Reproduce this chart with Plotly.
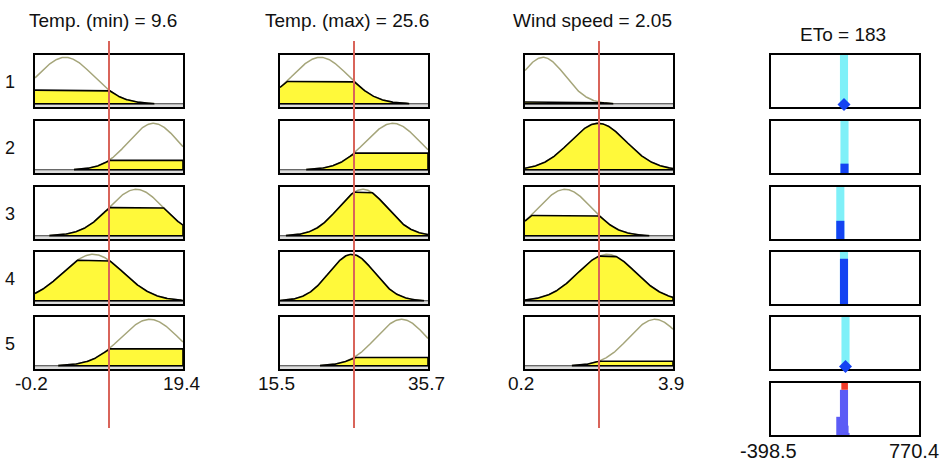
import numpy as np
import plotly.graph_objects as go

W, H = 946, 464

# ---------------- data ----------------
input_names = ["Temp. (min)", "Temp. (max)", "Wind speed"]
input_values = [9.6, 25.6, 2.05]
input_ranges = [(-0.2, 19.4), (15.5, 35.7), (0.2, 3.9)]
input_tick_labels = [("-0.2", "19.4"), ("15.5", "35.7"), ("0.2", "3.9")]
# Gaussian membership functions (centre, sigma) per input, rules 1..5
mf_centers_tmin = [3.8, 15.5, 13.2, 7.5, 15.0]
mf_sigmas_tmin = [3.7, 3.3, 3.6, 4.0, 3.8]
mf_centers_tmax = [21.0, 30.9, 26.8, 25.3, 32.1]
mf_sigmas_tmax = [3.8, 3.7, 3.3, 3.1, 3.5]
mf_centers_wind = [0.65, 2.03, 1.2, 2.25, 3.45]
mf_sigmas_wind = [0.55, 0.7, 0.66, 0.72, 0.65]

rule_labels = ["1", "2", "3", "4", "5"]
output_name = "ETo"
output_value = 183
output_range = (-398.5, 770.4)
output_tick_labels = ("-398.5", "770.4")
rule_outputs = [178, 182, 149, 178, 190]
rule_strengths = [0.03, 0.18, 0.35, 0.87, 0.04]

mf_centers = [mf_centers_tmin, mf_centers_tmax, mf_centers_wind]
mf_sigmas = [mf_sigmas_tmin, mf_sigmas_tmax, mf_sigmas_wind]

# ---------------- layout geometry (window pixels) ----------------
col_left = [35, 280, 525, 771]
col_w = 148
row_top = [55, 121, 187, 252, 317, 383]
row_h = 52

YELLOW = "#fff93a"
OLIVE = "#a5a57a"
REDLINE = "#d9645a"
CYAN = "#7ff0f8"
BLUE = "#1443f2"
AGG = "#5c5cf6"
REDTOP = "#f03a28"
FONT = "Liberation Sans, Arial, sans-serif"


def PX(p):
    return p / W


def PY(p):
    return 1 - p / H


fig = go.Figure()
layout = {}
shapes = []
annotations = []


def dom_x(c):
    return [PX(col_left[c]), PX(col_left[c] + col_w)]


def dom_y(r):
    return [PY(row_top[r] + row_h), PY(row_top[r])]


k = 0
first_axis_of_col = {}


def new_axes(c, r, xr, yr, below=False):
    global k
    k += 1
    xa = "xaxis" if k == 1 else f"xaxis{k}"
    ya = "yaxis" if k == 1 else f"yaxis{k}"
    xs = "x" if k == 1 else f"x{k}"
    ys = "y" if k == 1 else f"y{k}"
    common = dict(showline=True, mirror=True, linecolor="black", linewidth=2,
                  showgrid=False, zeroline=False, showticklabels=False,
                  ticks="", fixedrange=True,
                  layer="below traces" if below else "above traces")
    layout[xa] = dict(domain=dom_x(c), range=list(xr), anchor=ys, **common)
    layout[ya] = dict(domain=dom_y(r), range=list(yr), anchor=xs, **common)
    return xs, ys


# ---------------- input columns ----------------
for c in range(3):
    lo, hi = input_ranges[c]
    xg = np.linspace(lo, hi, 301)
    for r in range(5):
        xs, ys = new_axes(c, r, (lo, hi), (-0.07, 1.05))
        if r == 0:
            first_axis_of_col[c] = xs
        mu, sg = mf_centers[c][r], mf_sigmas[c][r]
        mf = np.exp(-(xg - mu) ** 2 / (2 * sg ** 2))
        level = float(np.exp(-(input_values[c] - mu) ** 2 / (2 * sg ** 2)))
        m = mf > 0.006
        xm = xg[m]
        clipped = np.minimum(mf[m], level)
        shapes.append(dict(type="rect", xref=f"{xs} domain", yref=ys, x0=0, x1=1,
                           y0=-0.07, y1=0, fillcolor="#dedede", line_width=0,
                           layer="below"))
        shapes.append(dict(type="line", xref=f"{xs} domain", yref=ys, x0=0, x1=1,
                           y0=0, y1=0, line=dict(color="#3a3a3a", width=1),
                           layer="below"))
        fig.add_trace(go.Scatter(x=xm, y=mf[m], mode="lines",
                                 line=dict(color=OLIVE, width=1.5),
                                 xaxis=xs, yaxis=ys, hoverinfo="skip"))
        px_ = np.concatenate([xm, [xm[-1], xm[0]]])
        py_ = np.concatenate([clipped, [0, 0]])
        fig.add_trace(go.Scatter(x=px_, y=py_, mode="lines", fill="toself",
                                 fillcolor=YELLOW,
                                 line=dict(color="black", width=1.6),
                                 xaxis=xs, yaxis=ys, hoverinfo="skip"))

# ---------------- output column ----------------
for r in range(5):
    xs, ys = new_axes(3, r, output_range, (0, 1), below=True)
    fig.add_trace(go.Bar(x=[rule_outputs[r]], y=[1], base=0, width=64,
                         marker=dict(color=CYAN, line_width=0),
                         xaxis=xs, yaxis=ys, hoverinfo="skip"))
    fig.add_trace(go.Bar(x=[rule_outputs[r]], y=[rule_strengths[r]], base=0,
                         width=64, marker=dict(color=BLUE, line_width=0),
                         xaxis=xs, yaxis=ys, hoverinfo="skip"))
    if rule_strengths[r] < 0.1:
        fig.add_trace(go.Scatter(x=[rule_outputs[r]], y=[0.05], mode="markers",
                                 marker=dict(symbol="diamond", size=10, color=BLUE),
                                 cliponaxis=False, xaxis=xs, yaxis=ys,
                                 hoverinfo="skip"))

# aggregated output
xs, ys = new_axes(3, 5, output_range, (0, 1), below=True)
for r in range(5):
    fig.add_trace(go.Bar(x=[rule_outputs[r]], y=[rule_strengths[r]], base=0,
                         width=64, marker=dict(color=AGG, line_width=0),
                         xaxis=xs, yaxis=ys, hoverinfo="skip"))
top = max(rule_strengths)
fig.add_trace(go.Bar(x=[output_value], y=[1 - top], base=top, width=52,
                     marker=dict(color=REDTOP, line_width=0),
                     xaxis=xs, yaxis=ys, hoverinfo="skip"))

# ---------------- red input lines ----------------
for c in range(3):
    shapes.append(dict(type="line", xref=first_axis_of_col[c], yref="paper",
                       x0=input_values[c], x1=input_values[c],
                       y0=PY(428), y1=PY(41),
                       line=dict(color=REDLINE, width=2), layer="above"))


# ---------------- texts ----------------
def label(text, x, y, size):
    annotations.append(dict(text=text, x=PX(x), y=PY(y), xref="paper",
                            yref="paper", xanchor="center", yanchor="middle",
                            showarrow=False,
                            font=dict(size=size, color="#111", family=FONT)))


title_x = [103, 347, 592]
for c in range(3):
    label(f"{input_names[c]} = {input_values[c]:g}", title_x[c], 20, 19)
    label(input_tick_labels[c][0], col_left[c] - 4, 383, 19)
    label(input_tick_labels[c][1], col_left[c] + col_w - 2, 383, 19)
label(f"{output_name} = {output_value}", 843, 34, 19)
label(output_tick_labels[0], 768, 451, 20)
label(output_tick_labels[1], 914, 451, 20)
for r in range(5):
    label(rule_labels[r], 10, row_top[r] + row_h / 2 + 1, 18)

fig.update_layout(width=W, height=H, margin=dict(l=0, r=0, t=0, b=0),
                  paper_bgcolor="white", plot_bgcolor="white",
                  showlegend=False, barmode="overlay",
                  shapes=shapes, annotations=annotations, **layout)

# remove the default page margin so the figure fills the window from its corner
fig.write_html("out.html",
               config={"displayModeBar": False, "staticPlot": True},
               post_script="document.body.style.margin='0';"
                           "document.body.style.overflow='hidden';")
